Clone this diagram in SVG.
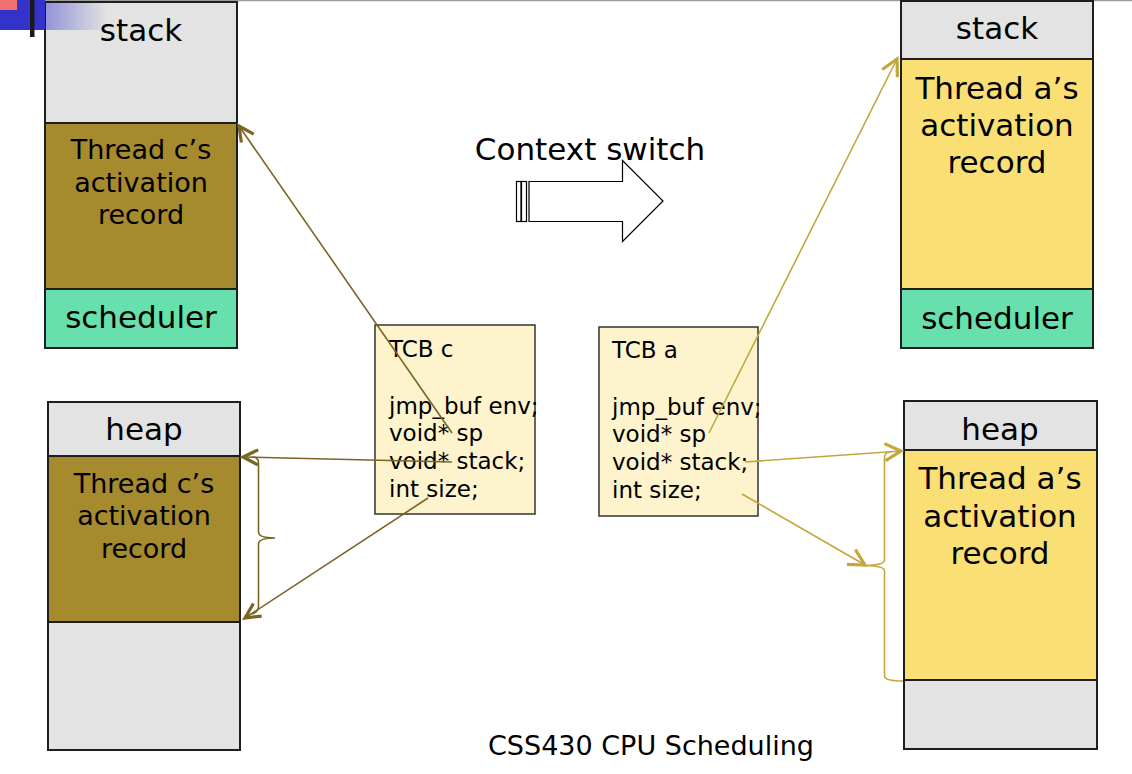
<svg xmlns="http://www.w3.org/2000/svg" width="1132" height="774" viewBox="0 0 1132 774">
<style>
  text { font-family: "DejaVu Sans", Verdana, sans-serif; fill: #000; }
  .box { stroke: #1e1e1e; stroke-width: 2; }
  .gray { fill: #e3e3e3; }
  .brown { fill: #a58a2e; }
  .yellow { fill: #f9df74; }
  .green { fill: #67e0ad; }
  .tcb { fill: #fdf3cd; stroke: #333; stroke-width: 1.5; }
  .big { font-size: 31px; text-anchor: middle; }
  .mid { font-size: 27px; text-anchor: middle; }
  .code { font-size: 23px; }
  .cl { fill: none; stroke: #7a6523; stroke-width: 1.6; }
  .cr { fill: none; stroke: #c4a63a; stroke-width: 1.6; }
</style>
<defs>
  <linearGradient id="fade" x1="0" y1="0" x2="1" y2="0">
    <stop offset="0" stop-color="#3333cc" stop-opacity="0.45"/>
    <stop offset="1" stop-color="#3333cc" stop-opacity="0"/>
  </linearGradient>
  <marker id="ahL" markerUnits="userSpaceOnUse" markerWidth="24" markerHeight="24" viewBox="-20 -12 24 24" refX="0" refY="0" orient="auto">
    <path d="M-15,-7.5 L0,0 L-15,7.5" fill="none" stroke="#7a6523" stroke-width="3.2" stroke-linejoin="miter"/>
  </marker>
  <marker id="ahR" markerUnits="userSpaceOnUse" markerWidth="24" markerHeight="24" viewBox="-20 -12 24 24" refX="0" refY="0" orient="auto">
    <path d="M-16,-8.5 L0,0 L-16,8.5" fill="none" stroke="#c4a63a" stroke-width="3.2" stroke-linejoin="miter"/>
  </marker>
</defs>
<rect x="0" y="0" width="1132" height="774" fill="#fff"/>
<line x1="0" y1="0.5" x2="1132" y2="0.5" stroke="#9a9a9a" stroke-width="1.5"/>

<!-- left stack -->
<g id="left-stack">
  <rect class="gray" x="45" y="2" width="192" height="121"/>
  <rect class="brown" x="45" y="123" width="192" height="166"/>
  <rect class="green" x="45" y="289" width="192" height="59"/>
  <rect class="box" x="45" y="2" width="192" height="346" fill="none"/>
  <line class="box" x1="45" y1="123" x2="237" y2="123"/>
  <line class="box" x1="45" y1="289" x2="237" y2="289"/>
  <text class="big" x="141" y="41">stack</text>
  <text class="mid" x="141" y="159">Thread c’s</text>
  <text class="mid" x="141" y="192">activation</text>
  <text class="mid" x="141" y="224">record</text>
  <text class="big" x="141" y="328">scheduler</text>
</g>

<!-- decoration top-left -->
<g id="decor">
  <rect x="0" y="0" width="45" height="30" fill="#3333cc"/>
  <rect x="0" y="0" width="17" height="10" fill="#ee7070"/>
  <rect x="30" y="0" width="4.5" height="37" fill="#1a1a1a"/>
  <rect x="46" y="3" width="62" height="27" fill="url(#fade)"/>
</g>

<!-- left heap -->
<g id="left-heap">
  <rect class="gray" x="48" y="402" width="192" height="54"/>
  <rect class="brown" x="48" y="456" width="192" height="166"/>
  <rect class="gray" x="48" y="622" width="192" height="128"/>
  <rect class="box" x="48" y="402" width="192" height="348" fill="none"/>
  <line class="box" x1="48" y1="456" x2="240" y2="456"/>
  <line class="box" x1="48" y1="622" x2="240" y2="622"/>
  <text class="big" x="144" y="440">heap</text>
  <text class="mid" x="144" y="493">Thread c’s</text>
  <text class="mid" x="144" y="525">activation</text>
  <text class="mid" x="144" y="558">record</text>
</g>

<!-- right stack -->
<g id="right-stack">
  <rect class="gray" x="901" y="1" width="192" height="58"/>
  <rect class="yellow" x="901" y="59" width="192" height="230"/>
  <rect class="green" x="901" y="289" width="192" height="59"/>
  <rect class="box" x="901" y="1" width="192" height="347" fill="none"/>
  <line class="box" x1="901" y1="59" x2="1093" y2="59"/>
  <line class="box" x1="901" y1="289" x2="1093" y2="289"/>
  <text class="big" x="997" y="39">stack</text>
  <text class="big" x="997" y="99">Thread a’s</text>
  <text class="big" x="997" y="136">activation</text>
  <text class="big" x="997" y="173">record</text>
  <text class="big" x="997" y="329">scheduler</text>
</g>

<!-- right heap -->
<g id="right-heap">
  <rect class="gray" x="904" y="401" width="193" height="49"/>
  <rect class="yellow" x="904" y="450" width="193" height="230"/>
  <rect class="gray" x="904" y="680" width="193" height="69"/>
  <rect class="box" x="904" y="401" width="193" height="348" fill="none"/>
  <line class="box" x1="904" y1="450" x2="1097" y2="450"/>
  <line class="box" x1="904" y1="680" x2="1097" y2="680"/>
  <text class="big" x="1000" y="440">heap</text>
  <text class="big" x="1000" y="489">Thread a’s</text>
  <text class="big" x="1000" y="527">activation</text>
  <text class="big" x="1000" y="564">record</text>
</g>

<!-- TCB c -->
<g id="tcb-c">
  <rect class="tcb" x="375" y="325" width="160" height="189"/>
  <text class="code" x="389" y="357">TCB c</text>
  <text class="code" x="389" y="414">jmp_buf env;</text>
  <text class="code" x="389" y="441">void* sp</text>
  <text class="code" x="389" y="469">void* stack;</text>
  <text class="code" x="389" y="497">int size;</text>
</g>

<!-- TCB a -->
<g id="tcb-a">
  <rect class="tcb" x="599" y="327" width="159" height="189"/>
  <text class="code" x="612" y="358">TCB a</text>
  <text class="code" x="612" y="415">jmp_buf env;</text>
  <text class="code" x="612" y="442">void* sp</text>
  <text class="code" x="612" y="470">void* stack;</text>
  <text class="code" x="612" y="498">int size;</text>
</g>

<!-- context switch -->
<g id="context-switch">
  <text x="590" y="160" font-size="31" text-anchor="middle">Context switch</text>
  <rect x="516.5" y="181.5" width="4.5" height="40" fill="#fff" stroke="#000" stroke-width="1.2"/>
  <rect x="521.5" y="181.5" width="5" height="40" fill="#fff" stroke="#000" stroke-width="1.2"/>
  <path d="M529,181.5 L622.5,181.5 L622.5,160.5 L663,201 L622.5,241.5 L622.5,221.5 L529,221.5 Z" fill="#fff" stroke="#000" stroke-width="1.2"/>
</g>

<!-- connectors -->
<g id="connectors">
  <line class="cl" x1="452" y1="433" x2="239" y2="126" marker-end="url(#ahL)"/>
  <line class="cl" x1="452" y1="462" x2="243" y2="457" marker-end="url(#ahL)"/>
  <line class="cl" x1="428" y1="498" x2="245" y2="618" marker-end="url(#ahL)"/>
  <path class="cl" d="M252,457 Q258.5,457 258.5,463 L258.5,532 Q258.5,538 275,538 Q258.5,538 258.5,544 L258.5,606 Q258.5,612 252,614"/>

  <line class="cr" x1="709" y1="433" x2="897" y2="59" marker-end="url(#ahR)"/>
  <line class="cr" x1="745" y1="462" x2="901" y2="451" marker-end="url(#ahR)"/>
  <line class="cr" x1="742" y1="494" x2="865" y2="565" marker-end="url(#ahR)"/>
  <path class="cr" d="M890,452 Q884.5,452 884.5,458 L884.5,560 Q884.5,565 866,565.5 Q884.5,566 884.5,571 L884.5,676 Q884.5,681 903,681"/>
</g>

<text x="651" y="755" font-size="27" text-anchor="middle">CSS430 CPU Scheduling</text>
</svg>
